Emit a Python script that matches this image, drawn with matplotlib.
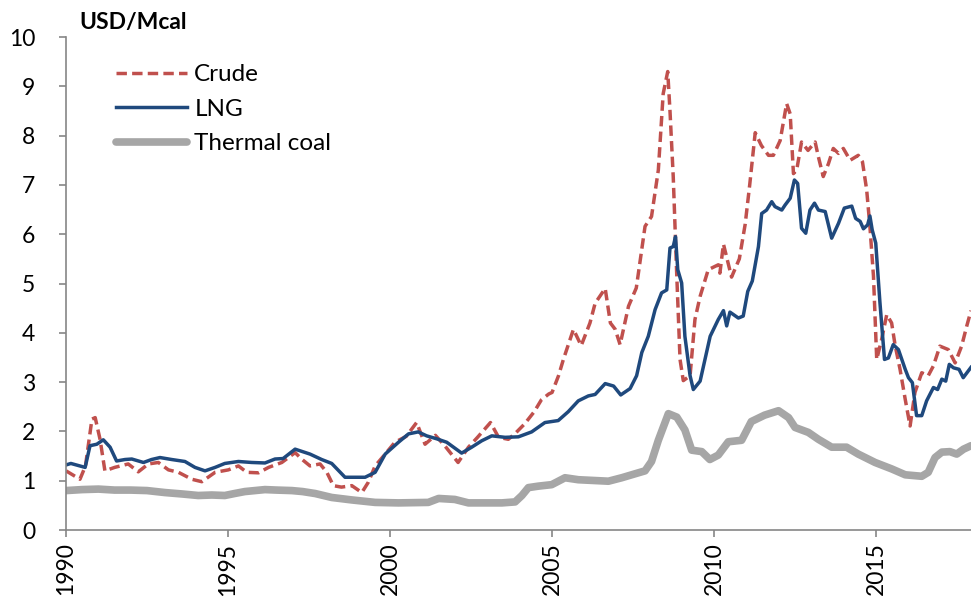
import matplotlib
matplotlib.use("Agg")
import matplotlib.pyplot as plt

plt.rcParams['font.family'] = ['Lato', 'DejaVu Sans']

# Crude (dashed red)
crude_x = [1990.0, 1990.2, 1990.43, 1990.6, 1990.8, 1990.9, 1991.05, 1991.2, 1991.5, 1991.92,
           1992.23, 1992.54, 1992.85, 1993.16, 1993.47, 1993.88, 1994.19, 1994.6, 1995.01, 1995.32,
           1995.58, 1995.94, 1996.25, 1996.66, 1997.07, 1997.27, 1997.53, 1997.84, 1998.05, 1998.25,
           1998.5, 1998.82, 1999.13, 1999.33, 1999.54, 1999.85, 2000.15, 2000.5, 2000.82, 2001.08,
           2001.4, 2001.7, 2002.1, 2002.42, 2002.7, 2003.1, 2003.35, 2003.65, 2003.85, 2004.15,
           2004.45, 2004.67, 2004.9, 2005.0, 2005.2, 2005.35, 2005.66, 2005.9, 2006.17, 2006.33,
           2006.64, 2006.8, 2006.95, 2007.1, 2007.36, 2007.6, 2007.87, 2008.07, 2008.28, 2008.43,
           2008.57, 2008.64, 2008.74, 2008.85, 2008.95, 2009.05, 2009.26, 2009.41, 2009.57, 2009.82,
           2010.13, 2010.18, 2010.29, 2010.54, 2010.78, 2010.96, 2011.1, 2011.27, 2011.46, 2011.68,
           2011.83, 2012.04, 2012.24, 2012.35, 2012.45, 2012.55, 2012.7, 2012.9, 2013.12, 2013.22,
           2013.37, 2013.53, 2013.68, 2013.84, 2013.99, 2014.2, 2014.45, 2014.58, 2014.71, 2014.81,
           2014.92, 2015.02, 2015.17, 2015.33, 2015.48, 2015.59, 2015.74, 2015.9, 2016.05, 2016.2,
           2016.41, 2016.61, 2016.77, 2016.97, 2017.23, 2017.44, 2017.64, 2017.8, 2017.93]
crude_y = [1.2, 1.12, 1.03, 1.3, 2.25, 2.28, 1.84, 1.2, 1.27, 1.34,
           1.18, 1.34, 1.37, 1.22, 1.17, 1.03, 0.98, 1.17, 1.22, 1.3,
           1.17, 1.16, 1.27, 1.37, 1.57, 1.44, 1.3, 1.34, 1.17, 0.9,
           0.87, 0.9, 0.76, 0.97, 1.3, 1.54, 1.78, 1.9, 2.18, 1.74,
           1.92, 1.7, 1.37, 1.68, 1.88, 2.18, 1.88, 1.84, 1.95, 2.15,
           2.4, 2.64, 2.76, 2.79, 3.13, 3.46, 4.07, 3.74, 4.2, 4.6,
           4.9, 4.2, 4.07, 3.76, 4.54, 4.91, 6.16, 6.36, 7.3, 8.85,
           9.3, 8.5, 7.17, 5.15, 3.46, 3.03, 3.13, 4.27, 4.74, 5.28,
           5.38, 5.21, 5.8, 5.13, 5.5, 6.2, 7.0, 8.06, 7.8, 7.6,
           7.6, 7.9, 8.65, 8.44, 7.23, 7.3, 7.87, 7.7, 7.87, 7.57,
           7.17, 7.43, 7.74, 7.64, 7.74, 7.5, 7.6, 7.47, 6.9, 6.16,
           5.15, 3.46, 3.86, 4.37, 4.2, 3.74, 3.26, 2.65, 2.11, 2.79,
           3.19, 3.13, 3.33, 3.73, 3.66, 3.39, 3.73, 4.14, 4.45]

# LNG (solid dark blue)
lng_x = [1990.0, 1990.15, 1990.43, 1990.59, 1990.74, 1990.95, 1991.15, 1991.36, 1991.56, 1991.82,
         1992.03, 1992.39, 1992.64, 1992.9, 1993.26, 1993.67, 1993.98, 1994.29, 1994.6, 1994.9,
         1995.32, 1995.73, 1996.14, 1996.45, 1996.7, 1997.07, 1997.53, 1997.89, 1998.2, 1998.61,
         1999.23, 1999.54, 1999.85, 2000.26, 2000.57, 2000.87, 2001.13, 2001.44, 2001.75, 2002.21,
         2002.52, 2002.83, 2003.14, 2003.55, 2003.96, 2004.37, 2004.78, 2005.19, 2005.5, 2005.81,
         2006.12, 2006.33, 2006.64, 2006.9, 2007.12, 2007.41, 2007.61, 2007.77, 2007.97, 2008.18,
         2008.38, 2008.54, 2008.64, 2008.74, 2008.81, 2008.88, 2009.0, 2009.1, 2009.26, 2009.36,
         2009.57, 2009.72, 2009.88, 2010.13, 2010.29, 2010.39, 2010.49, 2010.75, 2010.9, 2011.04,
         2011.18, 2011.37, 2011.47, 2011.62, 2011.78, 2011.88, 2012.09, 2012.19, 2012.35, 2012.48,
         2012.58, 2012.7, 2012.83, 2012.96, 2013.1, 2013.22, 2013.43, 2013.63, 2013.84, 2014.02,
         2014.25, 2014.37, 2014.51, 2014.61, 2014.74, 2014.81, 2014.88, 2014.99, 2015.12, 2015.26,
         2015.38, 2015.53, 2015.69, 2015.9, 2016.0, 2016.12, 2016.25, 2016.41, 2016.56, 2016.77,
         2016.9, 2017.03, 2017.15, 2017.26, 2017.39, 2017.56, 2017.69, 2017.93]
lng_y = [1.32, 1.35, 1.3, 1.27, 1.71, 1.74, 1.83, 1.68, 1.4, 1.43,
         1.44, 1.37, 1.43, 1.47, 1.43, 1.39, 1.27, 1.2, 1.27, 1.35,
         1.39, 1.37, 1.36, 1.44, 1.45, 1.64, 1.54, 1.43, 1.35, 1.07,
         1.07, 1.17, 1.54, 1.78, 1.95, 1.99, 1.91, 1.85, 1.78, 1.56,
         1.68, 1.81, 1.91, 1.88, 1.89, 1.99, 2.18, 2.22, 2.4, 2.62,
         2.72, 2.75, 2.97, 2.92, 2.74, 2.87, 3.13, 3.6, 3.93, 4.47,
         4.81, 4.87, 5.72, 5.75, 5.95, 5.28, 5.01, 3.93, 3.13, 2.85,
         3.02, 3.46, 3.93, 4.27, 4.45, 4.14, 4.42, 4.3, 4.34, 4.84,
         5.05, 5.75, 6.42, 6.49, 6.66, 6.56, 6.49, 6.59, 6.73, 7.1,
         7.03, 6.12, 6.02, 6.49, 6.63, 6.49, 6.46, 5.92, 6.22, 6.53,
         6.57, 6.32, 6.26, 6.11, 6.19, 6.37, 6.09, 5.82, 4.61, 3.46,
         3.49, 3.76, 3.66, 3.26, 3.09, 2.99, 2.32, 2.32, 2.62, 2.89,
         2.85, 3.06, 3.02, 3.36, 3.29, 3.26, 3.09, 3.3]

# Thermal coal (thick grey)
coal_x = [1990.0, 1990.5, 1991.0, 1991.5, 1992.0, 1992.5, 1993.05, 1993.6, 1994.08, 1994.5,
          1994.9, 1995.2, 1995.52, 1996.14, 1996.5, 1996.97, 1997.3, 1997.69, 1998.2, 1998.82,
          1999.54, 2000.26, 2001.18, 2001.5, 2002.0, 2002.42, 2003.45, 2003.86, 2004.07, 2004.27,
          2004.58, 2004.99, 2005.4, 2005.81, 2006.74, 2007.15, 2007.56, 2007.87, 2008.07, 2008.28,
          2008.59, 2008.85, 2009.1, 2009.31, 2009.62, 2009.87, 2010.13, 2010.44, 2010.85, 2011.15,
          2011.56, 2011.99, 2012.3, 2012.5, 2012.91, 2013.22, 2013.63, 2014.09, 2014.45, 2014.97,
          2015.48, 2015.9, 2016.41, 2016.61, 2016.82, 2017.03, 2017.28, 2017.49, 2017.7, 2017.93]
coal_y = [0.8, 0.82, 0.83, 0.81, 0.81, 0.8, 0.76, 0.73, 0.7, 0.71,
          0.7, 0.74, 0.78, 0.82, 0.81, 0.8, 0.78, 0.74, 0.66, 0.61,
          0.56, 0.55, 0.56, 0.64, 0.62, 0.55, 0.55, 0.57, 0.7, 0.86,
          0.89, 0.92, 1.06, 1.02, 0.99, 1.06, 1.14, 1.2, 1.39, 1.82,
          2.36, 2.29, 2.03, 1.62, 1.59, 1.43, 1.52, 1.79, 1.82, 2.2,
          2.33, 2.42, 2.28, 2.08, 1.98, 1.84, 1.68, 1.68, 1.54, 1.37,
          1.24, 1.12, 1.09, 1.17, 1.47, 1.58, 1.59, 1.54, 1.64, 1.71]

year_ticks = [1990, 1995, 2000, 2005, 2010, 2015]

fig = plt.figure(figsize=(9.71, 6.04), dpi=100)
ax = fig.add_axes([0.068, 0.1225, 0.932, 0.8162])

ax.plot(crude_x, crude_y, color='#C0504D', lw=2.5, dashes=(3.0, 1.5), label='Crude')
ax.plot(lng_x, lng_y, color='#1F497D', lw=2.5, label='LNG')
ax.plot(coal_x, coal_y, color='#A6A6A6', lw=5.5, solid_capstyle='round', label='Thermal coal')

ax.set_xlim(1990, 2017.93)
ax.set_ylim(0, 10)
ax.set_yticks(range(0, 11))
ax.set_xticks(year_ticks)
ax.set_xticklabels([str(y) for y in year_ticks], rotation=90)

for s in ['top', 'right']:
    ax.spines[s].set_visible(False)
for s in ['left', 'bottom']:
    ax.spines[s].set_color('#868686')
    ax.spines[s].set_linewidth(1.2)

ax.tick_params(axis='both', direction='out', length=5, width=1.2, color='#868686', labelsize=16.5)
ax.tick_params(axis='y', pad=17)
ax.tick_params(axis='x', pad=4)

fig.text(0.082, 0.963, 'USD/Mcal', fontsize=16.5, fontweight='bold', va='center', ha='left')

ax.legend(loc='upper left', bbox_to_anchor=(0.045, 0.965), frameon=False, fontsize=17.5,
          handlelength=2.9, handletextpad=0.3, labelspacing=0.56, borderaxespad=0)

fig.savefig('out.png', dpi=100)
